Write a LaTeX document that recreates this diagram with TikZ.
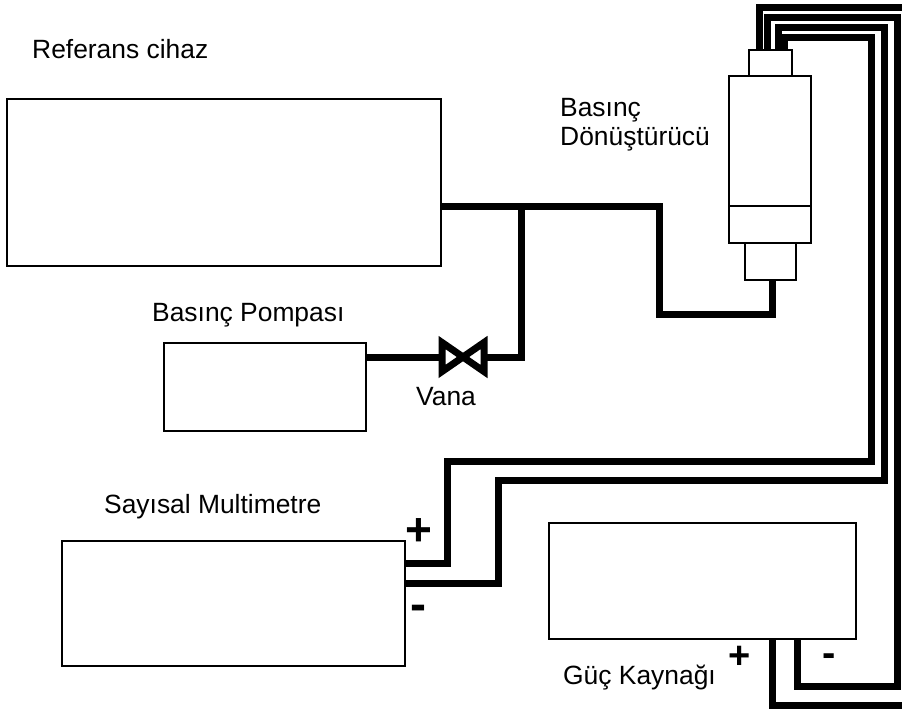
\documentclass[tikz,border=0pt]{standalone}
\usepackage{fontspec}
\setmainfont{Liberation Sans}
\usepackage{tikz}
\usetikzlibrary{positioning}

\begin{document}
\begin{tikzpicture}[
        x=1pt, y=-1pt,
        % Styles
        device/.style={
            rectangle, draw=black, line width=1.5pt,
            inner sep=0pt, outer sep=0pt, anchor=north west
        },
        sensor/.style={
            rectangle, draw=black, line width=2pt,
            inner sep=0pt, outer sep=0pt
        },
        label/.style={
            inner sep=0pt, anchor=base west, align=left,
            font=\fontsize{26.4}{29.5}\selectfont
        },
        sign/.style={
            inner sep=0pt, font=\fontsize{#1}{#1}\selectfont\bfseries
        },
        wire/.style={
            draw=black, line width=7pt
        },
        valve/.style={
            rectangle, minimum width=42pt, minimum height=29pt, inner sep=0pt, outer sep=0pt
        }
    ]

        \useasboundingbox (0,0) rectangle (902,713);

        % Devices
        \node[device, minimum width=434pt, minimum height=167pt] (ref) at (7,99) {};
        \node[device, minimum width=202pt, minimum height=88pt] (pump) at (164,343) {};
        \node[device, minimum width=343pt, minimum height=125pt] (meter) at (62,541) {};
        \node[device, minimum width=307pt, minimum height=116pt] (supply) at (549,523) {};

        % Pressure transducer
        \node[sensor, minimum width=82pt, minimum height=130pt] (upper) at (770,141) {};
        \node[sensor, minimum width=82pt, minimum height=37pt, below=0pt of upper] (lower) {};
        \node[sensor, minimum width=43pt, minimum height=26pt, above=0pt of upper] (cap) {};
        \node[sensor, minimum width=51pt, minimum height=37pt, below=0pt of lower] (stem) {};

        % Valve
        \node[valve] (vana) at (463,357) {};

        % Labels
        \node[label] (reflabel) at (32,58.5) {Referans cihaz};
        \node[label] (translabel) at (560,145.5) {Basınç\\Dönüştürücü};
        \node[label] (pumplabel) at (152,321) {Basınç Pompası};
        \node[label] (vanalabel) at (416,405) {Vana};
        \node[label] (meterlabel) at (104,513) {Sayısal Multimetre};
        \node[label] (supplylabel) at (563,684) {Güç Kaynağı};
        \node[sign=46] (meterplus) at (419,532) {+};
        \node[sign=48] (meterminus) at (418,613) {-};
        \node[sign=38] (supplyplus) at (740,657) {+};
        \node[sign=40] (supplyminus) at (829,660) {-};

        % Ports
        \coordinate (tee) at (521,206);
        \coordinate (refport) at (ref.north east |- tee);
        \coordinate (pumpport) at (pump.north east |- vana);
        \coordinate (stemport) at (772,280);
        \coordinate (meterplusport) at (405,563);
        \coordinate (meterminusport) at (405,583);
        \coordinate (capa) at (759,50);
        \coordinate (capb) at (767,50);
        \coordinate (capc) at (778,50);
        \coordinate (capd) at (784,50);
        \coordinate (supplyplusport) at (772,639);
        \coordinate (supplyminusport) at (797,639);
        \coordinate (edgetop) at (902,7);
        \coordinate (edgebottom) at (902,705);

        % Pressure line
        \draw[wire] (refport) -- (659,206) |- (772,314) -- (stemport);
        \draw[wire] (tee) |- (vana.east);
        \draw[wire] (pumpport) -- (vana.west);
        \draw[line width=7pt, fill=white] (vana.north west) -- (vana.south east)
            -- (vana.north east) -- (vana.south west) -- cycle;

        % Signal lines
        \draw[wire] (capa) |- (edgetop);
        \draw[wire] (supplyplusport) |- (edgebottom);
        \draw[wire] (capb) |- (897,17) -- (897,686) -| (supplyminusport);
        \draw[wire] (capc) |- (884,27) |- (498,480) |- (meterminusport);
        \draw[wire] (capd) |- (871,37) |- (447,461) |- (meterplusport);

    \end{tikzpicture}
\end{document}
